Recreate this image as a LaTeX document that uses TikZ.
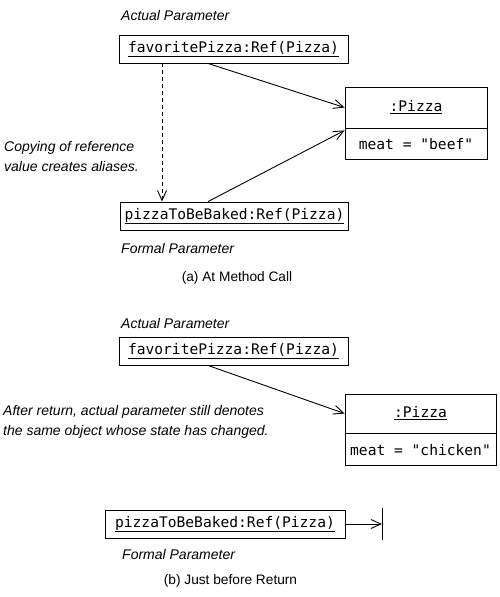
\documentclass[tikz,border=0pt]{standalone}
\usepackage{fontspec}
\setmainfont{Liberation Sans}
\newfontfamily\umlmono{DejaVu Sans Mono}
\usetikzlibrary{arrows.meta}

\tikzset{
  objbox/.style={draw, line width=0.9pt, minimum height=28pt, inner sep=0pt,
    font=\umlmono\fontsize{14.6}{17}\selectfont},
  parlabel/.style={font=\fontsize{14}{19}\selectfont\itshape, anchor=west, inner sep=0pt},
  notelabel/.style={font=\fontsize{14}{19.5}\selectfont\itshape, anchor=west, align=left, inner sep=0pt},
  caption/.style={font=\fontsize{13.7}{16}\selectfont, inner sep=0pt},
  ref/.style={line width=0.9pt, -{Straight Barb[length=10pt,width=9pt,line width=0.9pt]}},
}

\begin{document}
\begin{tikzpicture}[x=1pt, y=-1pt]
\useasboundingbox (0,0) rectangle (500,597);

% (a) at method call
\node[parlabel] (actA) at (121,15) {Actual Parameter};
\node[objbox, minimum width=229pt] (favA) at (233.5,49) {\underline{favoritePizza:Ref(Pizza)}};
\node[objbox, minimum width=142pt, minimum height=41pt] (pizzaA) at (416,107.5) {\underline{:Pizza}};
\node[objbox, minimum width=142pt, minimum height=31pt, anchor=north] (pizzaAattr) at (pizzaA.south) {meat = "beef"};
\node[objbox, minimum width=228pt] (bakeA) at (234.5,216) {\underline{pizzaToBeBaked:Ref(Pizza)}};
\node[parlabel] (formA) at (121,248) {Formal Parameter};
\node[notelabel] (copyNote) at (4,156.5) {Copying of reference\\value creates aliases.};
\node[caption] (capA) at (237,278) {(a) At Method Call};

\draw[ref] ([xshift=-25.5pt]favA.south) -- (pizzaA.west);
\draw[ref] ([xshift=-26.5pt]bakeA.north) -- ([yshift=-2pt]pizzaAattr.north west);
\draw[ref, dashed, dash pattern=on 4pt off 3pt] ([xshift=-71.5pt]favA.south) -- ([xshift=-72.5pt]bakeA.north);

% (b) just before return
\node[parlabel] (actB) at (121,323) {Actual Parameter};
\node[objbox, minimum width=229pt] (favB) at (233.5,351) {\underline{favoritePizza:Ref(Pizza)}};
\node[objbox, minimum width=151pt, minimum height=39pt] (pizzaB) at (420.5,413.5) {\underline{:Pizza}};
\node[objbox, minimum width=151pt, minimum height=32pt, anchor=north] (pizzaBattr) at (pizzaB.south) {meat = "chicken"};
\node[notelabel] (stateNote) at (3,422) {After return, actual parameter still denotes\\the same object whose state has changed.};
\node[objbox, minimum width=240pt] (bakeB) at (225,524) {\underline{pizzaToBeBaked:Ref(Pizza)}};
\node[parlabel] (formB) at (122,554) {Formal Parameter};
\node[caption] (capB) at (230.5,581) {(b) Just before Return};
\coordinate (gone) at (382,524);

\draw[ref] ([xshift=-25.5pt]favB.south) -- (pizzaB.west);
\draw[ref] (bakeB.east) -- (gone);
\draw[line width=0.9pt] ([yshift=16pt]gone) -- ([yshift=-16pt]gone);
\end{tikzpicture}
\end{document}
